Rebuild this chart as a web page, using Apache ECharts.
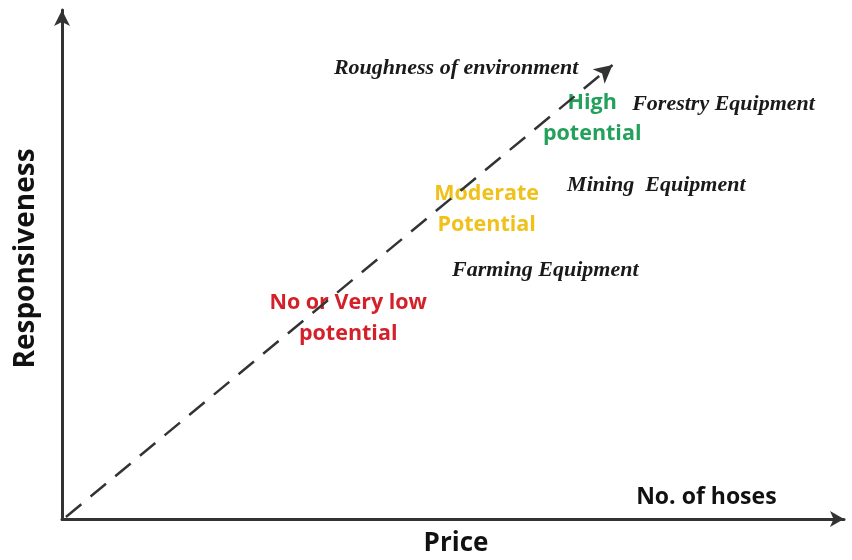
<!DOCTYPE html>
<html>
<head>
<meta charset="utf-8">
<script src="https://cdn.jsdelivr.net/npm/echarts@6/dist/echarts.min.js"></script>
<style>
  html, body { margin: 0; padding: 0; background: #fff; }
  #main { width: 852px; height: 560px; }
</style>
</head>
<body>
<div id="main"></div>
<script>
// diagram texts, placed in a 0..100 space on both axes
let zoneNames = ['High\npotential', 'Moderate\nPotential', 'No or Very low\npotential']
let zoneX = [67.8, 54.3, 36.6]
let zoneY = [78.8, 60.9, 39.5]
let zoneColors = ['#23a05a', '#efc11a', '#d42029']

let equipNames = ['Roughness of environment', 'Forestry Equipment', 'Mining  Equipment', 'Farming Equipment']
let equipX = [50.4, 84.6, 76.0, 61.8]
let equipY = [88.6, 81.5, 65.6, 48.9]

let cornerNames = ['No. of hoses']
let cornerX = [82.4]
let cornerY = [4.3]

// dashed trend arrow
let arrowStart = [0.5, 0.4]
let arrowEnd = [70.4, 89.2]

let dom = echarts.init(document.getElementById('main'))

let sansFont = 'Open Sans'
let serifFont = 'Liberation Serif'

let option = {
  animation: false,
  grid: { left: 62, right: 8, top: 10, bottom: 41, outerBoundsMode: 'none' },
  xAxis: {
    type: 'value',
    min: 0,
    max: 100,
    name: 'Price',
    nameLocation: 'middle',
    nameGap: 12,
    nameTextStyle: { fontFamily: sansFont, fontWeight: 'bold', fontSize: 26, color: '#111', padding: [0, 0, 0, 6] },
    axisLine: { show: true, symbol: ['none', 'arrow'], symbolSize: [12, 14], lineStyle: { color: '#333', width: 3 } },
    axisTick: { show: false },
    axisLabel: { show: false },
    splitLine: { show: false }
  },
  yAxis: {
    type: 'value',
    min: 0,
    max: 100,
    name: 'Responsiveness',
    nameLocation: 'middle',
    nameGap: 22,
    nameTextStyle: { fontFamily: sansFont, fontWeight: 'bold', fontSize: 28, color: '#111', padding: [0, 0, 0, 12] },
    axisLine: { show: true, symbol: ['none', 'arrow'], symbolSize: [12, 16], lineStyle: { color: '#333', width: 3 } },
    axisTick: { show: false },
    axisLabel: { show: false },
    splitLine: { show: false }
  },
  series: [
    {
      type: 'scatter',
      symbolSize: 0,
      itemStyle: { opacity: 1 },
      data: zoneNames.map((n, i) => ({
        name: n,
        value: [zoneX[i], zoneY[i]],
        label: { color: zoneColors[i] }
      })),
      label: {
        show: true,
        position: 'inside',
        formatter: '{b}',
        fontFamily: sansFont,
        fontWeight: 'bold',
        fontSize: 21.5,
        lineHeight: 31,
        align: 'center',
        textBorderWidth: 0
      },
      markLine: {
        silent: true,
        symbol: ['none', 'arrow'],
        symbolSize: [14, 18],
        label: { show: false },
        lineStyle: { color: '#333', width: 2.5, type: [20, 12] },
        data: [[{ coord: arrowStart }, { coord: arrowEnd }]]
      }
    },
    {
      type: 'scatter',
      symbolSize: 0,
      itemStyle: { opacity: 1 },
      data: equipNames.map((n, i) => ({ name: n, value: [equipX[i], equipY[i]] })),
      label: {
        show: true,
        position: 'inside',
        formatter: '{b}',
        fontFamily: serifFont,
        fontStyle: 'italic',
        fontWeight: 'bold',
        fontSize: 22,
        color: '#1a1a1a',
        textBorderWidth: 0
      }
    },
    {
      type: 'scatter',
      symbolSize: 0,
      itemStyle: { opacity: 1 },
      data: cornerNames.map((n, i) => ({ name: n, value: [cornerX[i], cornerY[i]] })),
      label: {
        show: true,
        position: 'inside',
        formatter: '{b}',
        fontFamily: sansFont,
        fontWeight: 'bold',
        fontSize: 23,
        color: '#111',
        textBorderWidth: 0
      }
    }
  ]
}

dom.setOption(option)
window.addEventListener('resize', () => dom.resize())
</script>
</body>
</html>
